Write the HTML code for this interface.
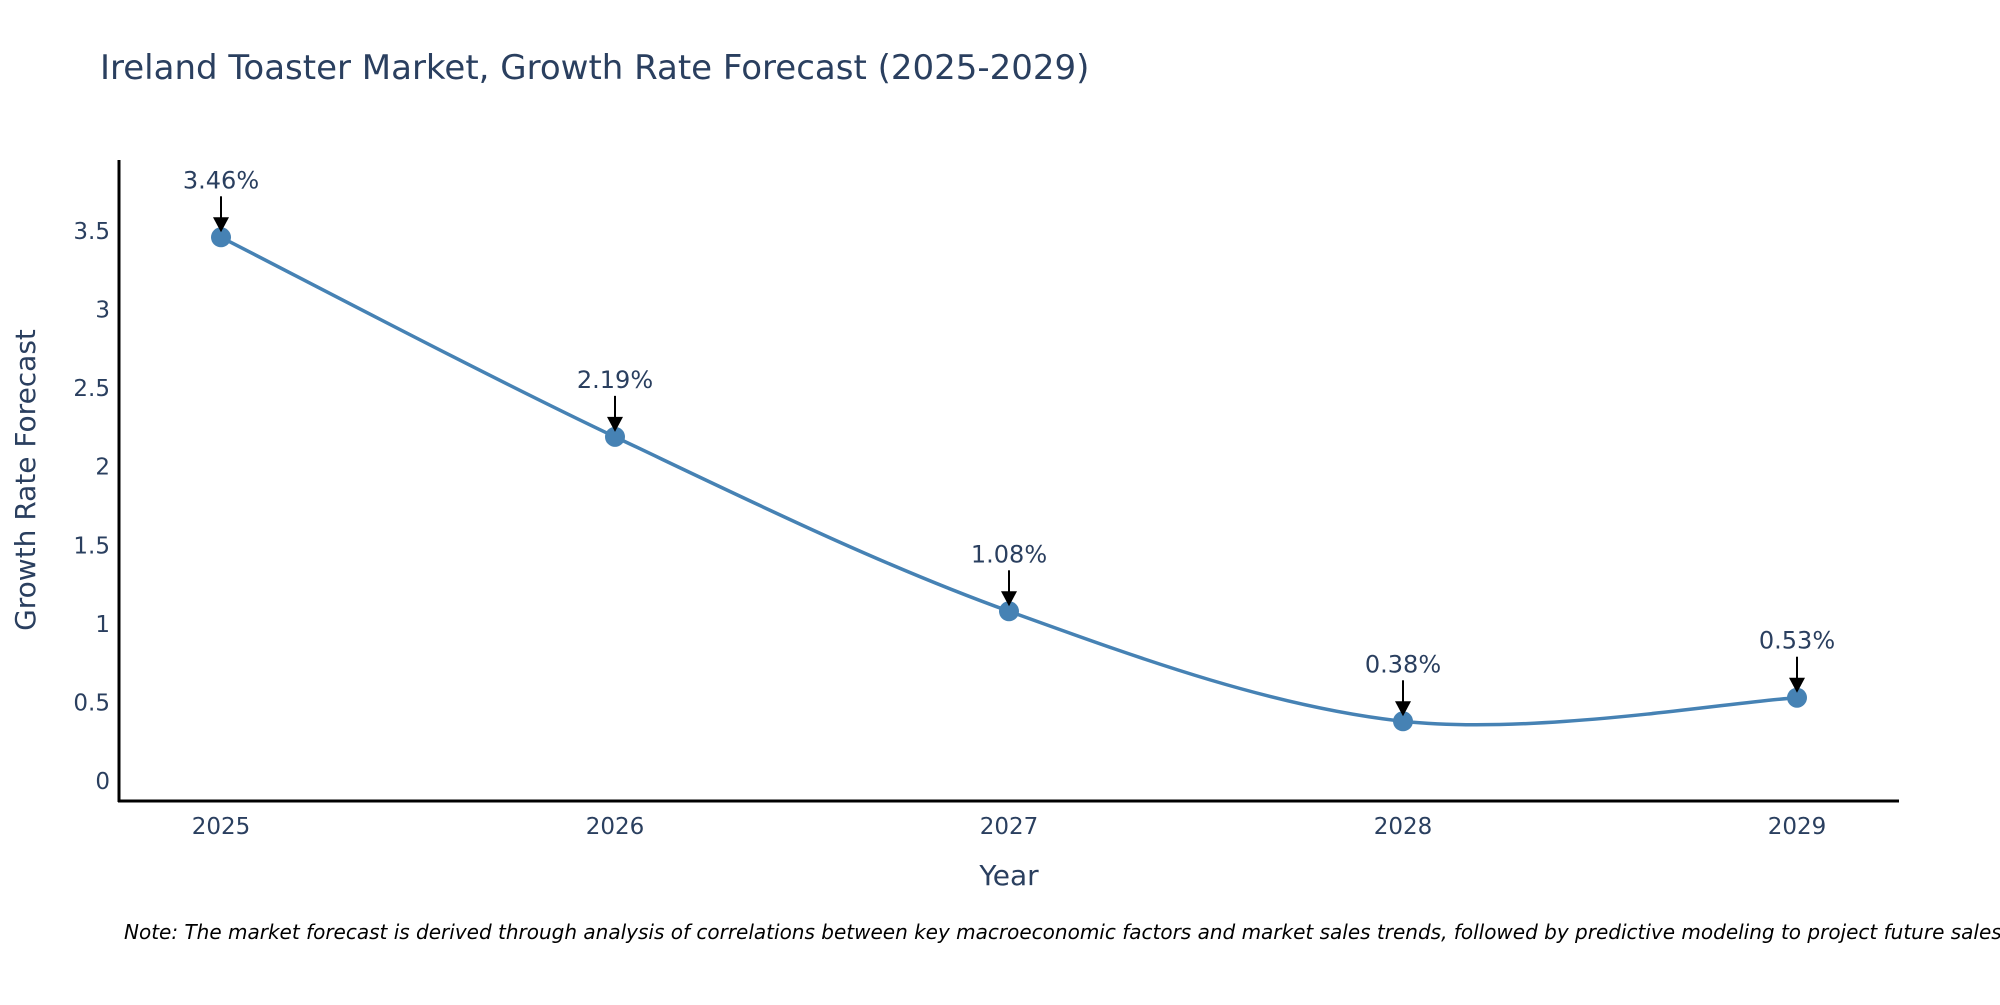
<!DOCTYPE html>
<html><head><meta charset="utf-8"><style>
body{margin:0;background:#fff;}
svg text{font-family:"DejaVu Sans","Liberation Sans",sans-serif;fill:#2a3f5f;}
</style></head><body>
<svg id="chart" width="2000" height="1000" viewBox="0 0 2000 1000" xmlns="http://www.w3.org/2000/svg">
<text x="100" y="79" font-size="34">Ireland Toaster Market, Growth Rate Forecast (2025-2029)</text>
<g id="yticks"></g>
<g id="xticks"></g>
<path id="line" fill="none" stroke="#4682b4" stroke-width="3.5"></path>
<g id="marks"></g>
<g id="annos"></g>
<line x1="119" y1="160" x2="119" y2="802" stroke="#000" stroke-width="3"/>
<line x1="118" y1="801" x2="1899" y2="801" stroke="#000" stroke-width="3"/>
<text transform="translate(35,480) rotate(-90)" text-anchor="middle" font-size="28">Growth Rate Forecast</text>
<text x="1009" y="885" text-anchor="middle" font-size="28">Year</text>
<text x="124" y="939" font-size="20" font-style="italic" style="fill:#000">Note: The market forecast is derived through analysis of correlations between key macroeconomic factors and market sales trends, followed by predictive modeling to project future sales.</text>
</svg>
<script>
const years = [2025, 2026, 2027, 2028, 2029];
const values = [3.46, 2.19, 1.08, 0.38, 0.53];
const labels = ["3.46%", "2.19%", "1.08%", "0.38%", "0.53%"];
const yTicks = [0, 0.5, 1, 1.5, 2, 2.5, 3, 3.5];
const yTickLabels = ["0", "0.5", "1", "1.5", "2", "2.5", "3", "3.5"];

const NS = "http://www.w3.org/2000/svg";
function xs(v){ return 221 + (v - 2025) * 394; }
function ys(v){ return 781 - v * 157.14; }
function mk(tag, attrs, parent){
  const e = document.createElementNS(NS, tag);
  for (const k in attrs) e.setAttribute(k, attrs[k]);
  parent.appendChild(e); return e;
}
const yt = document.getElementById('yticks');
yTicks.forEach((t,i)=>{
  const e = mk('text',{x:110,y:ys(t)+8,'text-anchor':'end','font-size':23},yt);
  
  
  e.textContent = yTickLabels[i];
});
const xt = document.getElementById('xticks');
years.forEach(y=>{
  const e = mk('text',{x:xs(y),y:834,'text-anchor':'middle','font-size':23},xt);
  
  
  e.textContent = y;
});
const pts = years.map((y,i)=>[xs(y), ys(values[i])]);
let d = `M${pts[0][0]},${pts[0][1]}`;
const tens = 0.5;
for (let i=0;i<pts.length-1;i++){
  const p0 = pts[Math.max(0,i-1)], p1 = pts[i], p2 = pts[i+1], p3 = pts[Math.min(pts.length-1,i+2)];
  const c1 = [p1[0]+(p2[0]-p0[0])*tens/3, p1[1]+(p2[1]-p0[1])*tens/3];
  const c2 = [p2[0]-(p3[0]-p1[0])*tens/3, p2[1]-(p3[1]-p1[1])*tens/3];
  d += ` C${c1[0]},${c1[1]} ${c2[0]},${c2[1]} ${p2[0]},${p2[1]}`;
}
document.getElementById('line').setAttribute('d', d);
const mg = document.getElementById('marks');
const ag = document.getElementById('annos');
pts.forEach((p,i)=>{
  const c = mk('circle',{cx:p[0],cy:p[1],r:10,fill:'#4682b4'},mg);
  
  
  const l = mk('line',{x1:p[0],y1:p[1]-41,x2:p[0],y2:p[1]-18,stroke:'#000','stroke-width':2},ag);
  
  
  const h = mk('polygon',{points:`${p[0]-8},${p[1]-20} ${p[0]+8},${p[1]-20} ${p[0]},${p[1]-5}`,fill:'#000'},ag);
  
  
  const t = mk('text',{x:p[0],y:p[1]-49,'text-anchor':'middle','font-size':24},ag);
  
  
  t.textContent = labels[i];
});
</script>
</body></html>
